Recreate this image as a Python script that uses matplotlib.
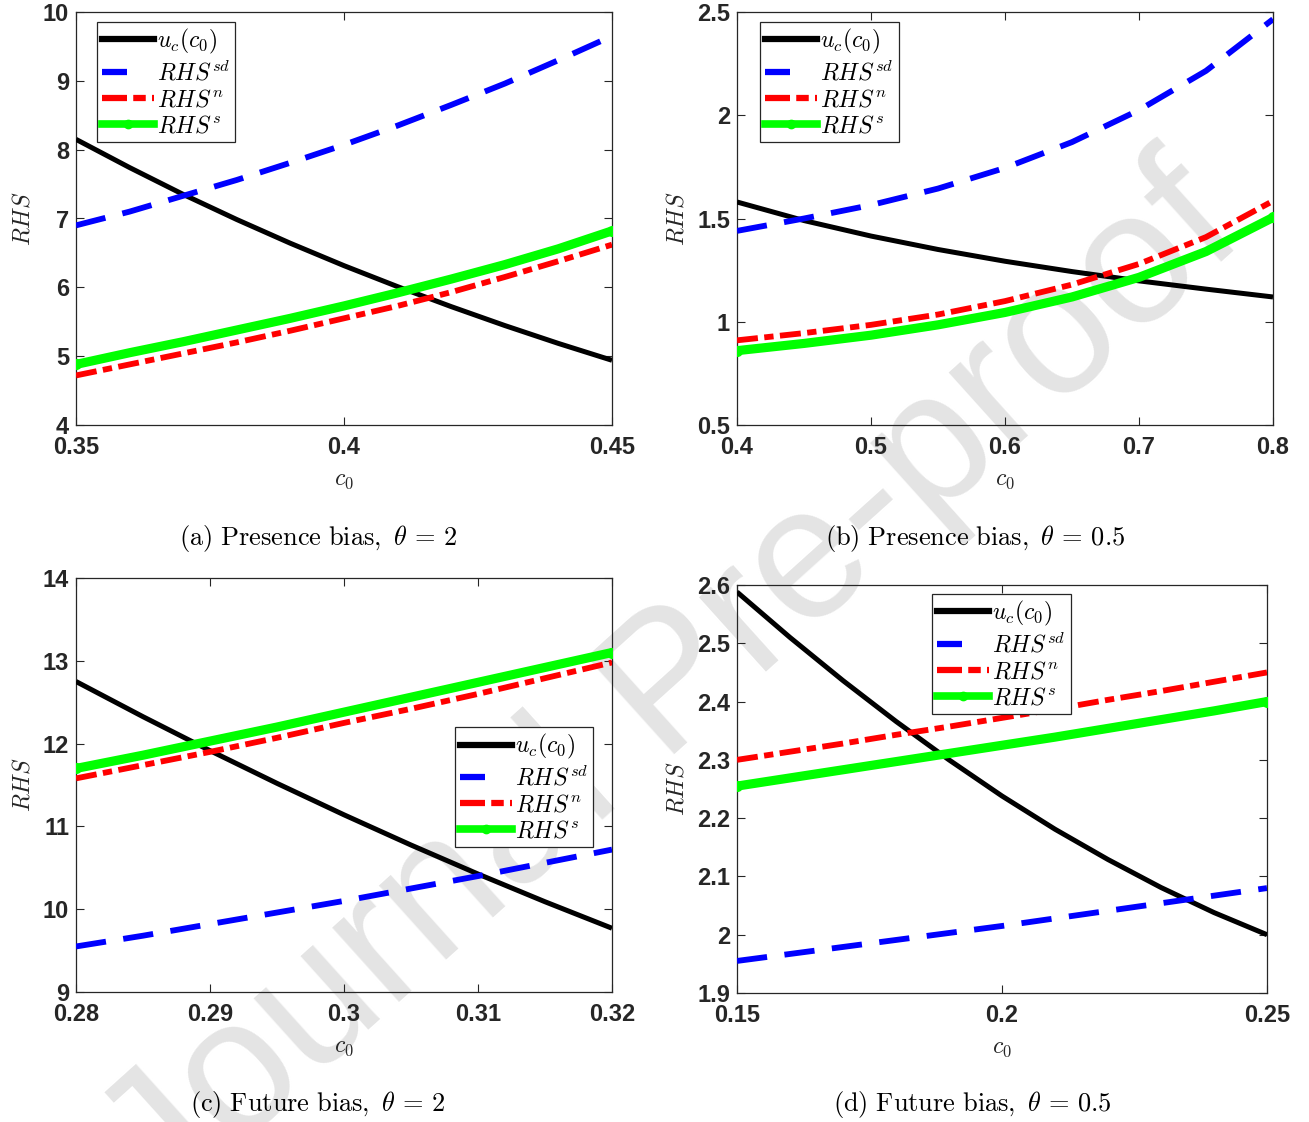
import matplotlib
matplotlib.use("Agg")
import matplotlib.pyplot as plt
from matplotlib.lines import Line2D

plt.rcParams['mathtext.fontset'] = 'cm'
plt.rcParams['font.family'] = ['Liberation Sans', 'DejaVu Sans']

# ---- data ----
xa = [0.35, 0.36, 0.37, 0.38, 0.39, 0.40, 0.41, 0.42, 0.43, 0.44, 0.45]
uc_a = [8.15, 7.74, 7.35, 6.985, 6.64, 6.315, 6.01, 5.72, 5.445, 5.185, 4.94]
sd_a = [6.90, 7.10, 7.33, 7.56, 7.81, 8.07, 8.35, 8.65, 8.96, 9.30, 9.65]
n_a = [4.72, 4.88, 5.04, 5.20, 5.37, 5.55, 5.73, 5.93, 6.15, 6.38, 6.62]
s_a = [4.88, 5.05, 5.21, 5.38, 5.55, 5.73, 5.92, 6.12, 6.33, 6.56, 6.82]

xb = [0.40, 0.45, 0.50, 0.55, 0.60, 0.65, 0.70, 0.75, 0.80]
uc_b = [1.58, 1.49, 1.415, 1.35, 1.293, 1.243, 1.198, 1.158, 1.12]
sd_b = [1.44, 1.50, 1.565, 1.645, 1.745, 1.87, 2.025, 2.215, 2.465]
n_b = [0.91, 0.945, 0.985, 1.035, 1.10, 1.18, 1.28, 1.41, 1.585]
s_b = [0.86, 0.895, 0.935, 0.985, 1.045, 1.12, 1.215, 1.34, 1.505]

xc = [0.280, 0.285, 0.290, 0.295, 0.300, 0.305, 0.310, 0.315, 0.320]
uc_c = [12.75, 12.325, 11.915, 11.52, 11.14, 10.775, 10.425, 10.09, 9.77]
sd_c = [9.55, 9.68, 9.82, 9.96, 10.10, 10.25, 10.40, 10.56, 10.72]
n_c = [11.58, 11.74, 11.90, 12.07, 12.25, 12.42, 12.60, 12.79, 12.98]
s_c = [11.70, 11.86, 12.03, 12.20, 12.38, 12.56, 12.74, 12.92, 13.10]

xd = [0.15, 0.16, 0.17, 0.18, 0.19, 0.20, 0.21, 0.22, 0.23, 0.24, 0.25]
uc_d = [2.588, 2.510, 2.436, 2.366, 2.300, 2.238, 2.181, 2.129, 2.081, 2.038, 2.000]
sd_d = [1.955, 1.967, 1.979, 1.991, 2.003, 2.015, 2.028, 2.041, 2.054, 2.067, 2.080]
n_d = [2.300, 2.314, 2.328, 2.343, 2.357, 2.372, 2.387, 2.403, 2.418, 2.434, 2.450]
s_d = [2.255, 2.269, 2.283, 2.297, 2.311, 2.325, 2.339, 2.354, 2.369, 2.384, 2.400]

labels = [r'$u_c(c_0)$', r'$RHS^{sd}$', r'$RHS^{n}$', r'$RHS^{s}$']
captions = [r'$\mathrm{(a)\ Presence\ bias,}\ \theta\,=\,2$',
            r'$\mathrm{(b)\ Presence\ bias,}\ \theta\,=\,0.5$',
            r'$\mathrm{(c)\ Future\ bias,}\ \theta\,=\,2$',
            r'$\mathrm{(d)\ Future\ bias,}\ \theta\,=\,0.5$']

W, H = 1309, 1122
fig = plt.figure(figsize=(W / 100, H / 100), dpi=100)
fig.patch.set_facecolor('white')

# watermark
fig.text(673 / W, 1 - 689 / H, 'Journal Pre-proof', rotation=42, ha='center', va='center',
         fontsize=136, color='#e4e4e4', zorder=-5, family='Liberation Sans')

def px(l, t, r, b):
    return [l / W, 1 - b / H, (r - l) / W, (b - t) / H]

panels = [
    dict(rect=px(76, 12, 612, 425), x=xa, ys=(uc_a, sd_a, n_a, s_a),
         xlim=(0.35, 0.45), xt=[0.35, 0.4, 0.45], ylim=(4, 10), yt=[4, 5, 6, 7, 8, 9, 10],
         leg=(0.039, 0.976), cap=(318, 538)),
    dict(rect=px(737, 12, 1273, 425), x=xb, ys=(uc_b, sd_b, n_b, s_b),
         xlim=(0.4, 0.8), xt=[0.4, 0.5, 0.6, 0.7, 0.8], ylim=(0.5, 2.5), yt=[0.5, 1, 1.5, 2, 2.5],
         leg=(0.043, 0.976), cap=(975, 538)),
    dict(rect=px(76, 578, 612, 992), x=xc, ys=(uc_c, sd_c, n_c, s_c),
         xlim=(0.28, 0.32), xt=[0.28, 0.29, 0.3, 0.31, 0.32], ylim=(9, 14), yt=[9, 10, 11, 12, 13, 14],
         leg=(0.707, 0.64), cap=(318, 1105)),
    dict(rect=px(737, 585, 1267, 993), x=xd, ys=(uc_d, sd_d, n_d, s_d),
         xlim=(0.15, 0.25), xt=[0.15, 0.2, 0.25], ylim=(1.9, 2.6), yt=[1.9, 2.0, 2.1, 2.2, 2.3, 2.4, 2.5, 2.6],
         leg=(0.368, 0.978), cap=(972, 1105)),
]

for i, p in enumerate(panels):
    ax = fig.add_axes(p['rect'])
    ax.set_facecolor('none')
    x = p['x']
    uc, sd, n, s = p['ys']
    ax.plot(x, uc, color='black', lw=3.6, solid_capstyle='butt', solid_joinstyle='round',
            label=labels[0], zorder=3)
    ax.plot(x, sd, color='#0000ff', lw=4.2, dashes=(5.2, 3.0), dash_capstyle='butt',
            dash_joinstyle='round', label=labels[1], zorder=3)
    ax.plot(x, n, color='#ff0000', lw=4.2, dashes=(3.6, 1.1, 1.6, 1.1), dash_capstyle='butt',
            dash_joinstyle='round', label=labels[2], zorder=3)
    ax.plot(x, s, color='#00ff00', lw=6.6, marker='o', markersize=7, markevery=[0, len(x) - 1],
            solid_capstyle='butt', solid_joinstyle='round', label=labels[3], zorder=4)
    ax.set_xlim(*p['xlim'])
    ax.set_ylim(*p['ylim'])
    ax.set_xticks(p['xt'])
    ax.set_xticklabels(['%g' % v for v in p['xt']])
    ax.set_yticks(p['yt'])
    ax.set_yticklabels(['%g' % v for v in p['yt']])
    ax.tick_params(direction='in', top=True, right=True, length=6, width=0.8, color='#262626',
                   labelsize=17, pad=5)
    ax.tick_params(axis='x', pad=8)
    for lab in ax.get_xticklabels() + ax.get_yticklabels():
        lab.set_fontweight('bold')
        lab.set_color('#262626')
    for sp in ax.spines.values():
        sp.set_color('#262626')
        sp.set_linewidth(0.9)
    ax.set_xlabel(r'$c_0$', fontsize=17, labelpad=7, color='#262626')
    ax.set_ylabel(r'$RHS$', fontsize=17, labelpad=6, color='#262626')

    handles = [
        Line2D([], [], color='black', lw=4.5),
        Line2D([], [], color='#0000ff', lw=4.5, dashes=(4.0, 6.0)),
        Line2D([], [], color='#ff0000', lw=4.5, dashes=(4.0, 1.0, 2.0, 1.0)),
        Line2D([], [], color='#00ff00', lw=5.5, marker='o', markersize=6),
    ]
    leg = ax.legend(handles, labels, fontsize=17, frameon=True, fancybox=False,
                    edgecolor='#262626', framealpha=1, handlelength=2.2, handletextpad=0.12,
                    labelspacing=0.17, borderpad=0.22, borderaxespad=0,
                    loc='upper left', bbox_to_anchor=p['leg'])
    leg.get_frame().set_linewidth(0.9)

    cx, cy = p['cap']
    fig.text(cx / W, 1 - cy / H, captions[i], ha='center', va='center', fontsize=19)

fig.savefig('out.png', dpi=100, facecolor='white')
